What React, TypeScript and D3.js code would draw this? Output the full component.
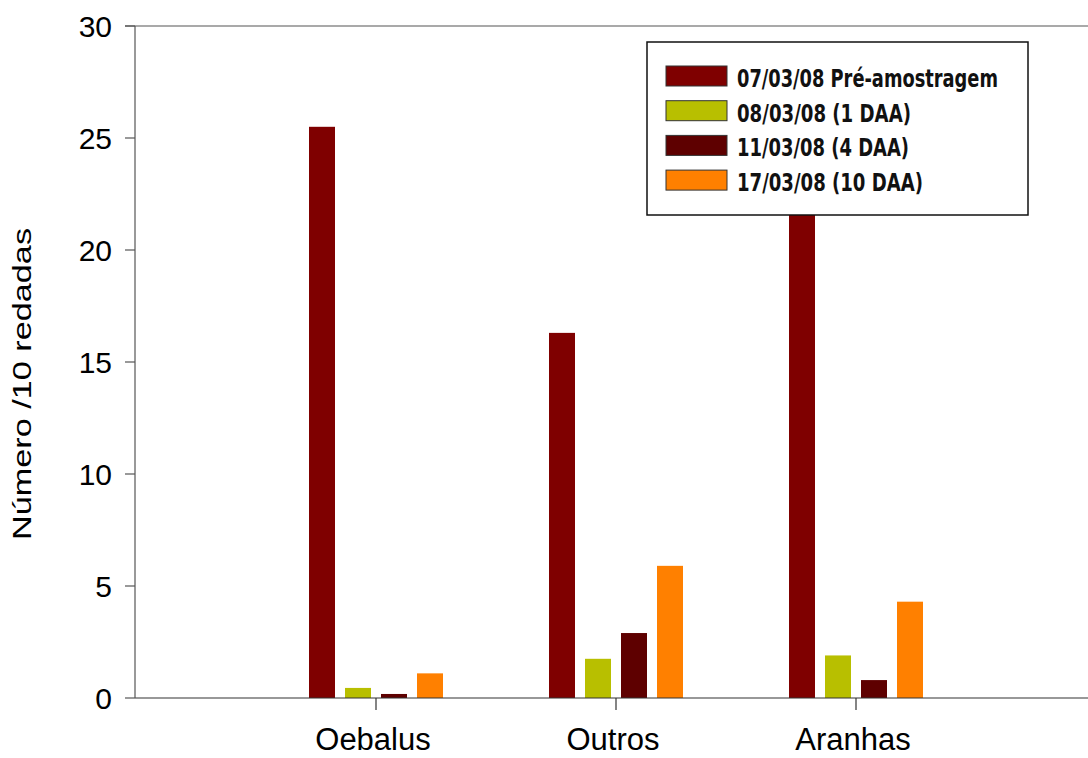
import { scaleBand, scaleLinear } from "d3";

const width = 1088;
const height = 758;

const categories = ["Oebalus", "Outros", "Aranhas"];
const seriesNames = [
  "07/03/08 Pré-amostragem",
  "08/03/08 (1 DAA)",
  "11/03/08 (4 DAA)",
  "17/03/08 (10 DAA)",
];
const seriesColors = ["#7f0000", "#b8bf00", "#5e0000", "#ff8000"];
// one array per series, in category order
const preAmostragem = [25.5, 16.3, 23.0];
const daa1 = [0.45, 1.75, 1.9];
const daa4 = [0.18, 2.9, 0.8];
const daa10 = [1.1, 5.9, 4.3];
const seriesValues = [preAmostragem, daa1, daa4, daa10];
const yTicks = [0, 5, 10, 15, 20, 25, 30];
const yLabel = "Número /10 redadas";

const left = 135;
const top = 26;
const bottom = 698;
const legendTextWidths = [261, 174, 172, 186];

export default function App() {
  const y = scaleLinear().domain([0, 30]).range([bottom, top]);
  const x = scaleBand<string>().domain(categories).range([256, 976]);
  const inner = scaleBand<string>()
    .domain(seriesNames)
    .range([-67, 67])
    .paddingInner(10 / 36);

  return (
    <svg
      width={width}
      height={height}
      viewBox={`0 0 ${width} ${height}`}
      style={{ position: "absolute", left: 0, top: 0, background: "#fff" }}
      fontFamily="'Liberation Sans', Arial, sans-serif"
    >
      {/* bars */}
      {categories.map((c, ci) => {
        const cx = (x(c) ?? 0) + x.bandwidth() / 2;
        return (
          <g key={c} transform={`translate(${cx},0)`}>
            {seriesNames.map((s, si) => {
              const v = seriesValues[si][ci];
              return (
                <rect
                  key={s}
                  x={inner(s)}
                  y={y(v)}
                  width={inner.bandwidth()}
                  height={y(0) - y(v)}
                  fill={seriesColors[si]}
                />
              );
            })}
          </g>
        );
      })}

      {/* frame lines */}
      <line x1={125} x2={width} y1={top} y2={top} stroke="#555" strokeWidth={1.2} />
      <line x1={left} x2={width} y1={bottom} y2={bottom} stroke="#333" strokeWidth={1.2} />
      <line x1={left} x2={left} y1={top} y2={bottom} stroke="#555" strokeWidth={1.2} />

      {/* y axis */}
      {yTicks.map((t) => (
        <g key={t} transform={`translate(0,${y(t)})`}>
          <line x1={125} x2={left} stroke="#555" strokeWidth={1.2} />
          <text x={112} dy="0.36em" textAnchor="end" fontSize={30} fill="#000">
            {t}
          </text>
        </g>
      ))}
      <text
        transform={`translate(31,${(top + bottom) / 2 + 22}) rotate(-90)`}
        textAnchor="middle"
        fontSize={26}
        textLength={312}
        lengthAdjust="spacingAndGlyphs"
        fill="#000"
      >
        {yLabel}
      </text>

      {/* x axis */}
      {categories.map((c) => {
        const cx = (x(c) ?? 0) + x.bandwidth() / 2;
        return (
          <g key={c} transform={`translate(${cx},0)`}>
            <line y1={bottom} y2={bottom + 12} stroke="#333" strokeWidth={1.2} />
            <text x={-3} y={750} textAnchor="middle" fontSize={31} fill="#000">
              {c}
            </text>
          </g>
        );
      })}

      {/* legend */}
      <g transform="translate(647,42)">
        <rect width={381} height={173} fill="#fff" stroke="#111" strokeWidth={1.5} />
        {seriesNames.map((s, i) => (
          <g key={s} transform={`translate(19,${24 + i * 34.7})`}>
            <rect width={61} height={20} fill={seriesColors[i]} stroke="#333" strokeWidth={1} />
            <text
              x={71}
              y={21}
              fontSize={25}
              fontWeight="bold"
              fontFamily="'Liberation Sans Narrow', 'DejaVu Sans Condensed', Arial, sans-serif"
              textLength={legendTextWidths[i]}
              lengthAdjust="spacingAndGlyphs"
              fill="#111"
            >
              {s}
            </text>
          </g>
        ))}
      </g>
    </svg>
  );
}
